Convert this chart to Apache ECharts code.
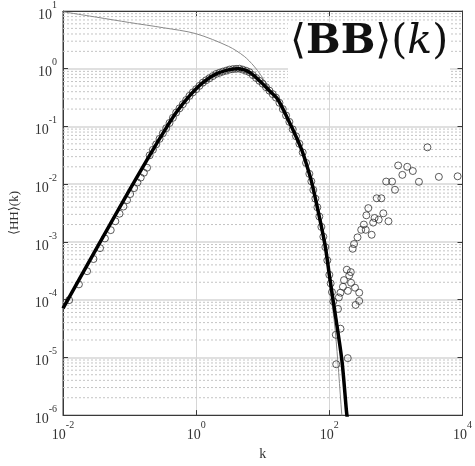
<!DOCTYPE html>
<html><head><meta charset="utf-8">
<script src="https://cdn.jsdelivr.net/npm/echarts@6/dist/echarts.min.js"></script>
<style>html,body{margin:0;padding:0;background:#fff}#c{width:475px;height:466px}</style>
</head><body><div id="c"></div>
<script>
// thick model curve <HH>(k)
const curveK = [0.01, 0.0316, 0.1, 0.2, 0.316, 0.501, 0.794, 1.26, 2.0, 3.16, 4.3, 6.31, 9.35, 13.1, 16.6, 23.2, 32.5, 38.5, 45.6, 54.0, 68.4, 86.5, 100.7, 113, 134, 156, 181.5, 187.5];
const curveY = [7.08e-5, 7.59e-4, 7.94e-3, 0.0316, 0.0759, 0.174, 0.339, 0.575, 0.813, 0.966, 1.0, 0.871, 0.59, 0.398, 0.302, 0.143, 0.0627, 0.0392, 0.0217, 0.0111, 3.29e-3, 8.63e-4, 2.55e-4, 1.04e-4, 2.83e-5, 8.0e-6, 1.12e-6, 8.5e-7];
// thin curve <BB>(k)
const thinK = [0.01, 0.0316, 0.1, 0.321, 0.99, 3.08, 5.27, 7.38, 9.35, 13.1, 16.6, 23.2, 32.5, 45.6, 68.4, 86.5, 100, 123, 153.5, 158.5];
const thinY = [9.7, 7.83, 6.31, 5.13, 4.05, 2.43, 1.64, 1.11, 0.776, 0.417, 0.302, 0.143, 0.0627, 0.0217, 3.29e-3, 7.9e-4, 2.0e-4, 2.8e-5, 1.05e-6, 6.3e-7];
// measured points along the curve (circles)
const circK = [0.01236, 0.01734, 0.0230, 0.0287, 0.036, 0.0426, 0.0521, 0.0611, 0.0706, 0.0808, 0.0916, 0.102, 0.117, 0.131, 0.147, 0.164, 0.183,
  0.2, 0.224, 0.251, 0.282, 0.316, 0.355, 0.398, 0.447, 0.501, 0.562, 0.631, 0.708, 0.794, 0.891, 1.0, 1.12, 1.26, 1.41, 1.58, 1.78, 2.0, 2.24, 2.51, 2.82, 3.16, 3.55, 3.98, 4.47, 5.01, 5.62, 6.31, 7.08, 7.94, 8.91, 10, 11.2, 12.6, 14.1, 15.8, 17.8, 20.0, 22.4, 25.1, 28.2, 31.6, 35.5, 39.8, 44.7, 50.1, 53.7, 57.5, 61.7, 66.1, 70.8, 75.9, 81.3, 87.1, 93.3, 100, 104.7, 109.6, 114.8];
const circY = [9.8e-5, 1.84e-4, 3.11e-4, 5.05e-4, 7.8e-4, 1.15e-3, 1.6e-3, 2.28e-3, 3.08e-3, 4.1e-3, 5.3e-3, 6.75e-3, 8.55e-3, 0.0107, 0.013, 0.0158, 0.0193,
  0.0316, 0.0394, 0.049, 0.061, 0.0759, 0.0933, 0.115, 0.141, 0.174, 0.206, 0.243, 0.287, 0.339, 0.389, 0.442, 0.505, 0.575, 0.631, 0.684, 0.746, 0.813, 0.851, 0.891, 0.927, 0.966, 0.984, 0.995, 1.0, 0.966, 0.923, 0.871, 0.776, 0.692, 0.617, 0.55, 0.479, 0.417, 0.363, 0.316, 0.257, 0.2, 0.155, 0.12, 0.0891, 0.0676, 0.0501, 0.0355, 0.0234, 0.0151, 0.0112, 7.94e-3, 5.62e-3, 3.98e-3, 2.75e-3, 1.82e-3, 1.23e-3, 8.13e-4, 4.79e-4, 2.69e-4, 1.91e-4, 1.35e-4, 9.33e-5];
// scattered high-k points
const noiseK = [2972, 1081, 1479, 1250, 1794, 2218, 4413, 8453, 714, 875, 968, 515, 604, 385, 360, 478, 646, 552, 455, 773, 330, 301, 352, 432, 265, 235, 224, 183, 210, 166, 199, 212, 160, 190, 243, 281, 147, 139, 281, 248, 135, 147, 125, 189, 127];
const noiseY = [0.0435, 0.0211, 0.02, 0.0145, 0.0169, 0.011, 0.0134, 0.0137, 0.0111, 0.0111, 8.0e-3, 5.7e-3, 5.7e-3, 3.85e-3, 2.89e-3, 2.6e-3, 3.13e-3, 2.43e-3, 2.16e-3, 2.28e-3, 2.0e-3, 1.62e-3, 1.62e-3, 1.33e-3, 1.2e-3, 9.2e-4, 7.6e-4, 3.3e-4, 3.0e-4, 2.18e-4, 2.62e-4, 1.96e-4, 1.67e-4, 1.42e-4, 1.61e-4, 1.32e-4, 1.32e-4, 1.09e-4, 9.5e-5, 8.1e-5, 6.9e-5, 3.14e-5, 2.46e-5, 9.7e-6, 7.6e-6];
const xRange = [0.01, 10000];
const yRange = [1e-6, 10];
const yDecades = [-6, -5, -4, -3, -2, -1, 0];
const minorMult = [2, 3, 4, 5, 6, 7, 8, 9];

const pair = (a, b) => a.map((v, i) => [v, b[i]]);
// minor horizontal grid lines (one broken line series)
const minorData = [];
yDecades.forEach(e => minorMult.forEach(m => {
  const v = m * Math.pow(10, e);
  minorData.push([xRange[0], v], [xRange[1], v], null);
}));

const serif = '"Liberation Serif", "DejaVu Serif", serif';
const supFmt = v => '{a|10}{b|' + Math.round(Math.log10(v)) + '}';
const labelRich = {
  a: {fontSize: 14, fontFamily: serif, color: '#333', lineHeight: 22, verticalAlign: 'bottom'},
  b: {fontSize: 10, fontFamily: serif, color: '#333', lineHeight: 22, verticalAlign: 'top'}
};

const chart = echarts.init(document.getElementById('c'), null, {renderer: 'canvas'});
chart.setOption({
  animation: false,
  backgroundColor: '#fff',
  grid: {left: 57, right: 8, top: 11, bottom: 45, show: true, borderColor: '#3a3a3a', borderWidth: 1},
  xAxis: [{
    type: 'log', logBase: 100, min: xRange[0], max: xRange[1],
    name: 'k', nameLocation: 'middle', nameGap: 30,
    nameTextStyle: {fontFamily: serif, fontSize: 14, color: '#333'},
    axisLine: {show: true, lineStyle: {color: '#3a3a3a'}},
    axisTick: {show: true, inside: true, length: 5, lineStyle: {color: '#3a3a3a'}},
    axisLabel: {formatter: supFmt, rich: labelRich, margin: 5},
    splitLine: {show: true, lineStyle: {color: '#d6d6d6', width: 1}}
  }, {
    type: 'log', logBase: 100, min: xRange[0], max: xRange[1], position: 'top',
    axisLine: {show: true, lineStyle: {color: '#3a3a3a'}},
    axisTick: {show: true, inside: true, length: 5, lineStyle: {color: '#3a3a3a'}},
    axisLabel: {show: false}, splitLine: {show: false}
  }],
  yAxis: [{
    type: 'log', min: yRange[0], max: yRange[1],
    name: '⟨HH⟩(k)', nameLocation: 'middle', nameGap: 42, nameRotate: 90,
    nameTextStyle: {fontFamily: serif, fontSize: 13, color: '#333'},
    axisLine: {show: true, lineStyle: {color: '#3a3a3a'}},
    axisTick: {show: true, inside: true, length: 5, lineStyle: {color: '#3a3a3a'}},
    axisLabel: {formatter: supFmt, rich: labelRich, margin: 6},
    splitLine: {show: true, lineStyle: {color: '#d6d6d6', width: 1.5}}
  }, {
    type: 'log', min: yRange[0], max: yRange[1], position: 'right',
    axisLine: {show: true, lineStyle: {color: '#3a3a3a'}},
    axisTick: {show: true, inside: true, length: 5, lineStyle: {color: '#3a3a3a'}},
    axisLabel: {show: false}, splitLine: {show: false}
  }],
  graphic: [
    {type: 'rect', z: 100, shape: {x: 288, y: 22, width: 162, height: 60}, style: {fill: '#fff'}},
    {type: 'text', z: 101, left: 290, top: 22, style: {
      text: '{b|⟨}{a|BB}{b|⟩(}{c|k}{b|)}',
      rich: {
        a: {fontFamily: '"DejaVu Serif", serif', fontWeight: 'bold', fontSize: 41, fill: '#111'},
        b: {fontFamily: '"DejaVu Serif", serif', fontSize: 41, fill: '#111'},
        c: {fontFamily: '"DejaVu Serif", serif', fontStyle: 'italic', fontSize: 41, fill: '#111'}
      }
    }}
  ],
  series: [
    {
      type: 'line', data: minorData, silent: true, showSymbol: false, connectNulls: false,
      lineStyle: {type: [2, 2], color: '#c4c4c4', width: 1}, z: 1
    },
    {
      type: 'line', data: pair(thinK, thinY), smooth: 0.3,
      showSymbol: false, lineStyle: {color: '#8a8a8a', width: 1}, z: 3
    },
    {
      type: 'scatter', data: pair(circK, circY), symbol: 'circle', symbolSize: 7,
      itemStyle: {color: 'rgba(0,0,0,0)', borderColor: '#333', borderWidth: 1}, z: 4
    },
    {
      type: 'scatter', data: pair(noiseK, noiseY), symbol: 'circle', symbolSize: 7,
      itemStyle: {color: 'rgba(0,0,0,0)', borderColor: '#333', borderWidth: 1}, z: 4
    },
    {
      type: 'line', data: pair(curveK, curveY), smooth: 0.3, showSymbol: false,
      lineStyle: {color: '#000', width: 3.5}, z: 5
    }
  ]
});
</script></body></html>
